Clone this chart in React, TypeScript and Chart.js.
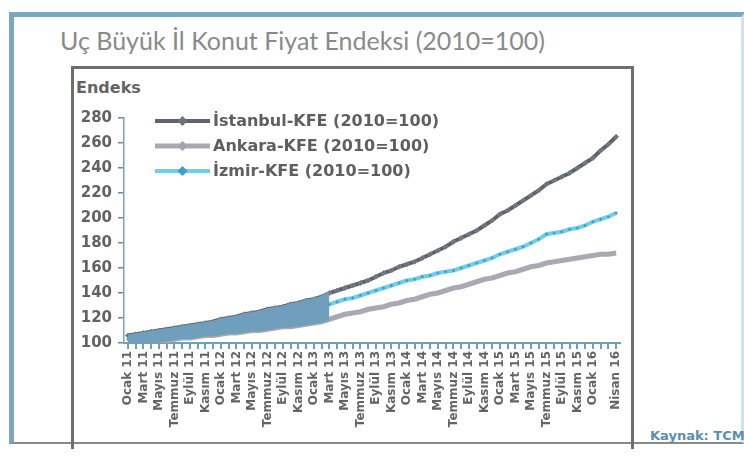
import React, { useEffect, useRef } from "react";
import { Chart, registerables } from "chart.js";

Chart.register(...registerables);

const categories = [
  "Ocak 11","Şubat 11","Mart 11","Nisan 11","Mayıs 11","Haziran 11","Temmuz 11","Ağustos 11","Eylül 11","Ekim 11","Kasım 11","Aralık 11",
  "Ocak 12","Şubat 12","Mart 12","Nisan 12","Mayıs 12","Haziran 12","Temmuz 12","Ağustos 12","Eylül 12","Ekim 12","Kasım 12","Aralık 12",
  "Ocak 13","Şubat 13","Mart 13","Nisan 13","Mayıs 13","Haziran 13","Temmuz 13","Ağustos 13","Eylül 13","Ekim 13","Kasım 13","Aralık 13",
  "Ocak 14","Şubat 14","Mart 14","Nisan 14","Mayıs 14","Haziran 14","Temmuz 14","Ağustos 14","Eylül 14","Ekim 14","Kasım 14","Aralık 14",
  "Ocak 15","Şubat 15","Mart 15","Nisan 15","Mayıs 15","Haziran 15","Temmuz 15","Ağustos 15","Eylül 15","Ekim 15","Kasım 15","Aralık 15",
  "Ocak 16","Şubat 16","Mart 16","Nisan 16",
];

const shownTickLabels = [
  "Ocak 11","Mart 11","Mayıs 11","Temmuz 11","Eylül 11","Kasım 11",
  "Ocak 12","Mart 12","Mayıs 12","Temmuz 12","Eylül 12","Kasım 12",
  "Ocak 13","Mart 13","Mayıs 13","Temmuz 13","Eylül 13","Kasım 13",
  "Ocak 14","Mart 14","Mayıs 14","Temmuz 14","Eylül 14","Kasım 14",
  "Ocak 15","Mart 15","Mayıs 15","Temmuz 15","Eylül 15","Kasım 15",
  "Ocak 16","Nisan 16",
];

const istanbul = [
  106,107,108,109,110,111,112,113,114,115,116,117,
  119,120,121,123,124,125,127,128,129,131,132,134,
  135,137,140,142,144,146,148,150,153,156,158,161,
  163,165,168,171,174,177,181,184,187,190,194,198,
  203,206,210,214,218,222,227,230,233,236,240,244,
  248,254,259,265,
];

const ankara = [
  100,100,100,101,101,102,103,104,104,105,106,106,
  107,108,108,109,110,110,111,112,113,113,114,115,
  116,117,119,121,123,124,125,127,128,129,131,132,
  134,135,137,139,140,142,144,145,147,149,151,152,
  154,156,157,159,161,162,164,165,166,167,168,169,
  170,171,171,172,
];

const izmir = [
  103,104,104,105,106,107,107,108,109,110,111,111,
  112,113,114,115,116,117,118,119,120,121,122,124,
  126,128,131,133,135,136,138,140,142,144,146,148,
  150,151,153,154,156,157,158,160,162,164,166,168,
  171,173,175,177,180,183,187,188,189,191,192,194,
  197,199,201,204,
];

const seriesLabels = ["İstanbul-KFE (2010=100)", "Ankara-KFE (2010=100)", "İzmir-KFE (2010=100)"];
const yTicks = { min: 100, max: 280, step: 20 };
// last month of the early scanned band
const bandEndLabel = "Mart 13";

const BAND = "#6f9fbd";
const IST = "#5e6269";
const ANK = "#a9a9b4";
const IZM = "#72cde8";

export default function App() {
  const ref = useRef<HTMLCanvasElement | null>(null);

  useEffect(() => {
    const canvas = ref.current;
    if (!canvas) return;
    const bandEnd = categories.indexOf(bandEndLabel);
    const bandUpper = istanbul.map((v, i) => (i <= bandEnd ? v : null));
    const bandLower = ankara.map((v, i) => (i <= bandEnd ? v : null));

    const legendPlugin = {
      id: "insideLegend",
      afterDatasetsDraw(chart: any) {
        const ctx = chart.ctx as CanvasRenderingContext2D;
        const { left, top } = chart.chartArea;
        const rows = [
          { ds: 2, y: top + 3 },
          { ds: 3, y: top + 28 },
          { ds: 4, y: top + 53 },
        ];
        ctx.save();
        rows.forEach((r) => {
          const d = chart.data.datasets[r.ds];
          const x0 = left + 31;
          const x1 = left + 86;
          ctx.strokeStyle = d.borderColor;
          ctx.lineWidth = d.borderWidth;
          ctx.beginPath();
          ctx.moveTo(x0, r.y);
          ctx.lineTo(x1, r.y);
          ctx.stroke();
          const cx = (x0 + x1) / 2;
          ctx.fillStyle = d.pointBackgroundColor || d.borderColor;
          ctx.beginPath();
          ctx.moveTo(cx, r.y - 5);
          ctx.lineTo(cx + 5, r.y);
          ctx.lineTo(cx, r.y + 5);
          ctx.lineTo(cx - 5, r.y);
          ctx.closePath();
          ctx.fill();
          ctx.fillStyle = "#5f5f5f";
          ctx.font = "bold 16px 'DejaVu Sans'";
          ctx.textBaseline = "middle";
          ctx.textAlign = "left";
          ctx.fillText(d.label, x1 + 3, r.y + 1);
        });
        ctx.restore();
      },
    };

    const chart = new Chart(canvas, {
      type: "line",
      data: {
        labels: categories,
        datasets: [
          {
            label: "band-upper",
            data: bandUpper,
            borderColor: BAND,
            backgroundColor: BAND,
            borderWidth: 2,
            pointRadius: 0,
            fill: "+1",
          },
          {
            label: "band-lower",
            data: bandLower,
            borderColor: BAND,
            borderWidth: 2,
            pointRadius: 0,
            fill: false,
          },
          {
            label: seriesLabels[0],
            data: istanbul,
            borderColor: IST,
            borderWidth: 4,
            pointStyle: "rectRot",
            pointRadius: 2.5,
            pointBackgroundColor: "#6d7179",
            pointBorderColor: "#7d8a99",
            pointBorderWidth: 1,
            fill: false,
          },
          {
            label: seriesLabels[1],
            data: ankara,
            borderColor: ANK,
            borderWidth: 5,
            pointRadius: 0,
            pointBackgroundColor: "#a3a3ad",
            fill: false,
          },
          {
            label: seriesLabels[2],
            data: izmir,
            borderColor: IZM,
            borderWidth: 4,
            pointStyle: "rectRot",
            pointRadius: 1.8,
            pointBackgroundColor: "#3a9fcc",
            pointBorderColor: "#3a9fcc",
            pointBorderWidth: 0,
            fill: false,
          },
        ],
      },
      options: {
        animation: false,
        responsive: false,
        devicePixelRatio: 1,
        layout: { padding: { left: 72, top: 118, right: 124, bottom: 23 } },
        plugins: {
          legend: { display: false },
          tooltip: { enabled: false },
          title: { display: false },
        },
        scales: {
          x: {
            type: "category",
            offset: true,
            afterFit: (s: any) => {
              s.height = 100;
            },
            border: { display: true, color: BAND, width: 2 },
            grid: {
              display: true,
              drawOnChartArea: false,
              drawTicks: true,
              tickLength: 6,
              color: BAND,
              lineWidth: 2,
              offset: false,
            },
            ticks: {
              autoSkip: false,
              minRotation: 90,
              maxRotation: 90,
              padding: 2,
              color: "#646464",
              font: { family: "'DejaVu Sans'", size: 12, weight: "bold" },
              callback: function (this: any, _v: any, i: number) {
                const l = categories[i];
                return shownTickLabels.includes(l) ? l : "";
              },
            },
          },
          y: {
            min: yTicks.min,
            max: yTicks.max,
            afterFit: (s: any) => {
              s.width = 52;
            },
            border: { display: true, color: "#7aa3bf", width: 1.5 },
            grid: {
              display: true,
              drawOnChartArea: false,
              drawTicks: true,
              tickLength: 6,
              color: "#6b8aa0",
              lineWidth: 1.5,
            },
            ticks: {
              stepSize: yTicks.step,
              padding: 6,
              color: "#626262",
              font: { family: "'DejaVu Sans'", size: 15, weight: "bold" },
            },
          },
        },
      },
      plugins: [legendPlugin],
    });
    return () => chart.destroy();
  }, []);

  return (
    <div
      style={{
        position: "absolute",
        left: 0,
        top: 0,
        width: 744,
        height: 466,
        overflow: "hidden",
        background: "#ffffff",
        fontFamily: "'DejaVu Sans', sans-serif",
      }}
    >
      <div
        style={{
          position: "absolute",
          left: 9,
          top: 12,
          width: 727,
          height: 425,
          border: "5px solid #7ba7c2",
          borderRightColor: "#cfe3ee",
          borderBottom: "2px solid #8a8a8a",
        }}
      />
      <div
        style={{
          position: "absolute",
          left: 60,
          top: 25,
          fontFamily: "Lato, sans-serif",
          fontSize: 25,
          color: "#8a8a8a",
          whiteSpace: "nowrap",
        }}
      >
        Uç Büyük İl Konut Fiyat Endeksi (2010=100)
      </div>
      <div
        style={{
          position: "absolute",
          left: 71,
          top: 66,
          width: 557,
          height: 380,
          border: "3px solid #6e6e6e",
          borderBottom: "none",
        }}
      />
      <div
        style={{
          position: "absolute",
          left: 76,
          top: 78,
          fontSize: 16,
          fontWeight: "bold",
          color: "#646464",
        }}
      >
        Endeks
      </div>
      <div
        style={{
          position: "absolute",
          left: 650,
          top: 428,
          fontSize: 13,
          fontWeight: "bold",
          color: "#5a8fb5",
          whiteSpace: "nowrap",
        }}
      >
        Kaynak: TCMB
      </div>
      <canvas
        ref={ref}
        width={744}
        height={466}
        style={{ position: "absolute", left: 0, top: 0, width: 744, height: 466 }}
      />
    </div>
  );
}
